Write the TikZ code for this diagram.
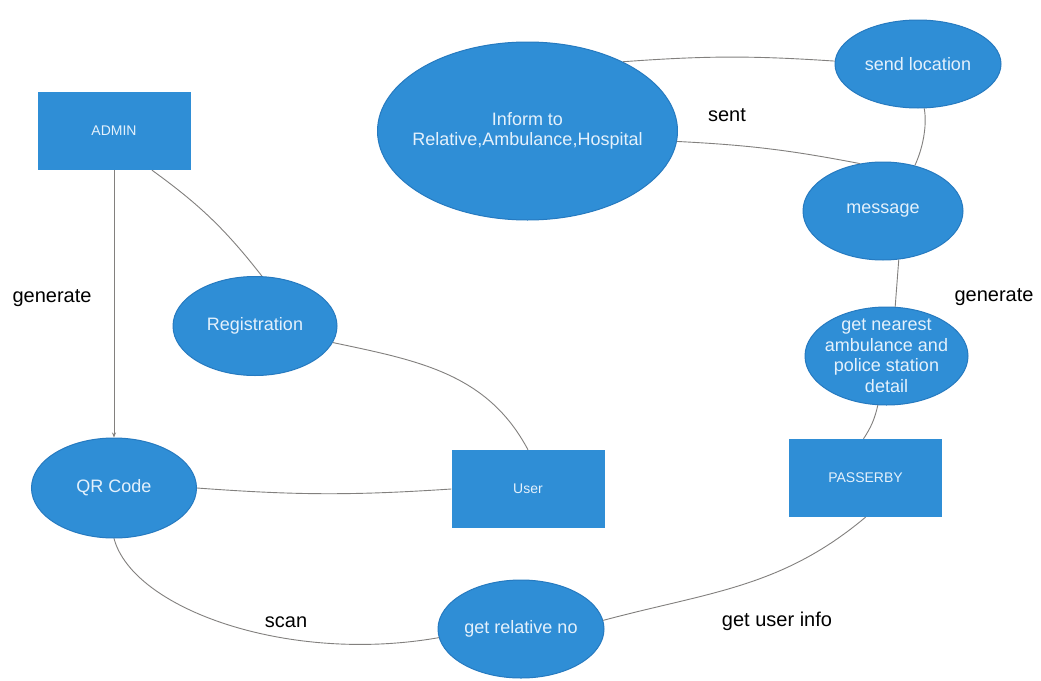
\documentclass[tikz,border=0pt]{standalone}
\usepackage{fontspec}
\setmainfont{Liberation Sans}
\usetikzlibrary{shapes.geometric,arrows.meta}

\definecolor{nodeblue}{RGB}{47,142,214}
\definecolor{edgeblue}{RGB}{38,122,192}
\definecolor{nodetext}{RGB}{228,241,252}
\definecolor{linegray}{RGB}{130,128,126}

\tikzset{
  ell/.style={ellipse, fill=nodeblue, draw=edgeblue, line width=1pt, inner sep=0pt},
  entity/.style={rectangle, fill=nodeblue, inner sep=0pt, text=nodetext,
    font=\fontsize{14}{17}\selectfont, minimum width=153pt, minimum height=78pt},
  intext/.style={text=nodetext, align=center, inner sep=0pt,
    font=\fontsize{18}{20.5}\selectfont},
  link/.style={draw=linegray, line width=0.9pt},
  lbl/.style={font=\fontsize{20}{24}\selectfont, text=black, inner sep=0pt}
}

\begin{document}
\begin{tikzpicture}[x=1pt,y=1pt]
  \fill[white] (0,0) rectangle (1041,-680);
  \useasboundingbox (0,0) rectangle (1041,-680);

  % entities
  \node[entity] (admin)  at (114,-131)   {ADMIN};
  \node[entity] (user)   at (528,-489)   {User};
  \node[entity] (passer) at (865.5,-478) {PASSERBY};

  % processes
  \node[ell, minimum width=164pt, minimum height=99pt,
        label={[intext]center:Registration}] (reg) at (255,-326) {};
  \node[ell, minimum width=165pt, minimum height=100pt,
        label={[intext]center:QR Code}] (qr) at (114,-488) {};
  \node[ell, minimum width=166pt, minimum height=98pt,
        label={[intext]center:get relative no}] (rel) at (521,-629) {};
  \node[ell, minimum width=300pt, minimum height=178pt,
        label={[intext]center:{Inform to\\Relative,Ambulance,Hospital}}] (inform) at (527.5,-131) {};
  \node[ell, minimum width=166pt, minimum height=88pt,
        label={[intext]center:send location}] (sendloc) at (918,-64) {};
  \node[ell, minimum width=160pt, minimum height=98pt,
        label={[intext]center:message}] (msg) at (883,-211) {};
  \node[ell, minimum width=163pt, minimum height=98pt,
        label={[intext]center:{get nearest\\ambulance and\\police station\\detail}}] (near) at (886.5,-356) {};

  % connectors
  \draw[link, -{Stealth[length=5pt,width=4pt]}] (admin.south) -- (qr.north);
  \draw[link] ([xshift=38pt]admin.south) to[bend left=8] (reg.82);
  \draw[link] (reg.-12) to[out=-12, in=118] (user.north);
  \draw[link] (qr.east) to[bend right=4] (user.west);
  \draw[link] (qr.south) to[out=-75, in=190, out looseness=0.55, in looseness=1.15] (rel.186);
  \draw[link] (rel.6) to[out=15, in=-140] (passer.south);
  \draw[link] (near.-100) to[bend left=10] ([xshift=-2pt]passer.north);
  \draw[link] (msg.-72) -- (near.80);
  \draw[link] (sendloc.-82) to[out=-80, in=65, looseness=0.8] (msg.55);
  \draw[link] (inform.36) to[bend left=4] (sendloc.178);
  \draw[link] (inform.-4) to[bend left=4] (msg.116);

  % relation labels
  \node[lbl] (lgen1) at (52,-298)  {generate};
  \node[lbl] (lsent) at (727,-115) {sent};
  \node[lbl] (lgen2) at (994,-297) {generate};
  \node[lbl] (lscan) at (286,-622) {scan};
  \node[lbl] (linfo) at (777,-621) {get user info};
\end{tikzpicture}
\end{document}
